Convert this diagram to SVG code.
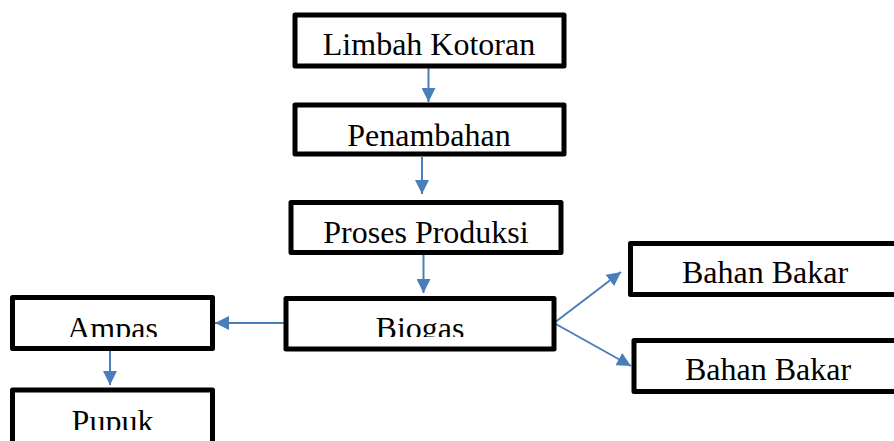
<svg xmlns="http://www.w3.org/2000/svg" width="894" height="441" viewBox="0 0 894 441">
<style>
.box{fill:#fff;stroke:#000;stroke-width:5;stroke-linejoin:round}
.lbl{font-family:"Liberation Serif","Times New Roman",serif;font-size:32px;fill:#000;text-anchor:middle}
.con{stroke:#4a7ebb;stroke-width:2;fill:none;marker-end:url(#ah)}
</style>
<defs>
<marker id="ah" viewBox="0 0 10 10" refX="10" refY="5" markerWidth="7" markerHeight="7" markerUnits="strokeWidth" orient="auto">
<path d="M0,0 L10,5 L0,10 Z" fill="#4a7ebb"/>
</marker>
<clipPath id="cA"><rect x="12" y="297" width="200" height="40"/></clipPath>
<clipPath id="cB"><rect x="288" y="300" width="264" height="37"/></clipPath>
<clipPath id="cP"><rect x="12" y="390" width="200" height="40"/></clipPath>
</defs>
<rect width="894" height="441" fill="#fff"/>
<g id="connectors">
<line class="con" x1="428.5" y1="68" x2="428.5" y2="102"/>
<line class="con" x1="422" y1="157" x2="422" y2="194"/>
<line class="con" x1="423.5" y1="255" x2="423.5" y2="293"/>
<line class="con" x1="284" y1="323" x2="215" y2="323"/>
<line class="con" x1="110" y1="351" x2="110" y2="385"/>
<line class="con" x1="554" y1="323" x2="621" y2="272"/>
<line class="con" x1="554" y1="323" x2="631" y2="366"/>
</g>
<g id="limbah">
<rect class="box" x="295" y="15" width="269" height="51"/>
<text class="lbl" x="429" y="55">Limbah Kotoran</text>
</g>
<g id="penambahan">
<rect class="box" x="295" y="105" width="269" height="49"/>
<text class="lbl" x="429" y="146">Penambahan</text>
</g>
<g id="proses">
<rect class="box" x="291" y="202.5" width="270" height="50"/>
<text class="lbl" x="426" y="243">Proses Produksi</text>
</g>
<g id="biogas">
<rect class="box" x="286" y="298.5" width="268" height="50.5"/>
<text class="lbl" x="420" y="339" clip-path="url(#cB)">Biogas</text>
</g>
<g id="ampas">
<rect class="box" x="12.5" y="297.5" width="200" height="51"/>
<text class="lbl" x="112.5" y="339" clip-path="url(#cA)">Ampas</text>
</g>
<g id="pupuk">
<rect class="box" x="12.5" y="390" width="200" height="60"/>
<text class="lbl" x="112.5" y="432" clip-path="url(#cP)">Pupuk</text>
</g>
<g id="bahan1">
<rect class="box" x="630.5" y="243.5" width="270" height="51"/>
<text class="lbl" x="765" y="283">Bahan Bakar</text>
</g>
<g id="bahan2">
<rect class="box" x="634" y="340.5" width="270" height="51"/>
<text class="lbl" x="768" y="380">Bahan Bakar</text>
</g>
</svg>
